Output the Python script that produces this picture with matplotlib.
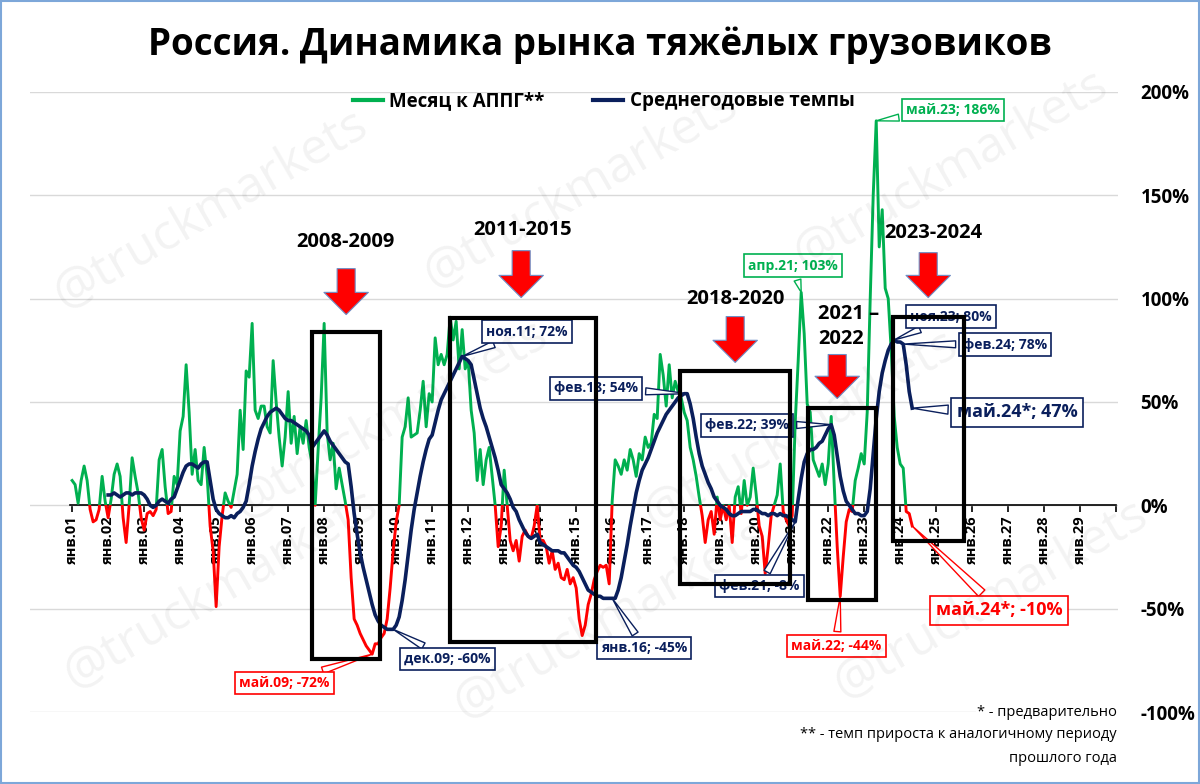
import matplotlib
matplotlib.use('Agg')
import matplotlib.pyplot as plt
import numpy as np
from matplotlib.lines import Line2D
from matplotlib.patches import Rectangle
from matplotlib.ticker import FuncFormatter

plt.rcParams['font.family'] = ['Open Sans', 'DejaVu Sans']

# monthly growth vs same month of previous year, %
yoy_2001 = [12, 10, 1, 12, 19, 12, -2, -8, -7, -2, 14, 2]
yoy_2002 = [-6, 3, 15, 20, 14, -6, -18, 0, 23, 14, 6, -6]
yoy_2003 = [-12, -4, -3, -5, -2, 22, 27, 9, -4, -3, 14, 10]
yoy_2004 = [36, 43, 68, 45, 15, 27, 12, 10, 28, 14, -10, -22]
yoy_2005 = [-49, -20, -5, 6, 2, -1, 7, 15, 46, 27, 65, 62]
yoy_2006 = [88, 46, 42, 48, 48, 38, 35, 70, 50, 33, 19, 33]
yoy_2007 = [55, 30, 43, 25, 38, 30, 41, 28, 20, 0, 27, 52]
yoy_2008 = [88, 35, 22, 30, 8, 18, 10, 2, -7, -35, -55, -58]
yoy_2009 = [-62, -65, -68, -70, -72, -67, -67, -64, -62, -55, -40, -22]
yoy_2010 = [-8, 0, 33, 38, 52, 33, 34, 35, 46, 60, 38, 54]
yoy_2011 = [50, 81, 68, 73, 68, 73, 91, 80, 89, 66, 85, 66]
yoy_2012 = [70, 46, 35, 12, 27, 10, 22, 28, 14, 0, -20, -10]
yoy_2013 = [17, 0, -17, -22, -17, -27, -15, -12, -15, -16, -10, 0]
yoy_2014 = [-17, -17, -20, -28, -22, -31, -28, -35, -36, -31, -38, -35]
yoy_2015 = [-40, -55, -63, -58, -48, -43, -36, -32, -29, -30, -29, -38]
yoy_2016 = [2, 22, 19, 15, 22, 17, 27, 22, 14, 25, 22, 33]
yoy_2017 = [28, 30, 44, 42, 73, 63, 48, 68, 52, 60, 55, 52]
yoy_2018 = [45, 41, 28, 22, 14, 4, -5, -18, -7, -3, -14, 4]
yoy_2019 = [-7, 0, -7, 0, -18, 4, 9, -4, 12, 0, 4, 18]
yoy_2020 = [5, -10, -15, -33, -20, -5, 0, 5, 20, -3, -7, -10]
yoy_2021 = [-5, 40, 70, 103, 83, 49, 45, 22, 18, 14, 20, 10]
yoy_2022 = [20, 43, 10, -20, -44, -25, -8, -2, -3, 12, 18, 25]
yoy_2023 = [20, 45, 100, 150, 186, 125, 143, 105, 100, 75, 43, 28]
yoy_2024 = [20, 18, -3, -4, -10]

# average annual rate (rolling), %, from Jan 2002
avg_2002 = [5, 5, 6, 5, 4, 5, 6, 6, 5, 6, 6, 6]
avg_2003 = [5, 3, 0, -1, 0, 2, 3, 2, 1, 3, 4, 8]
avg_2004 = [12, 16, 19, 20, 20, 19, 18, 20, 21, 21, 12, 3]
avg_2005 = [-2, -4, -5, -6, -6, -5, -6, -4, -3, -1, 2, 10]
avg_2006 = [19, 26, 32, 37, 40, 43, 45, 46, 47, 46, 44, 42]
avg_2007 = [41, 41, 40, 39, 38, 37, 36, 34, 28, 30, 32, 34]
avg_2008 = [36, 34, 31, 29, 27, 25, 23, 21, 20, 9, -4, -14]
avg_2009 = [-23, -30, -36, -42, -48, -53, -56, -58, -59, -60, -60, -60]
avg_2010 = [-58, -54, -46, -36, -24, -12, -2, 6, 14, 21, 27, 32]
avg_2011 = [34, 40, 46, 51, 54, 57, 60, 63, 66, 69, 72, 71]
avg_2012 = [70, 68, 61, 54, 47, 42, 38, 33, 28, 23, 17, 10]
avg_2013 = [8, 6, 3, -1, -3, -7, -10, -13, -15, -16, -15, -14]
avg_2014 = [-18, -19, -20, -21, -22, -22, -22, -23, -23, -25, -27, -29]
avg_2015 = [-30, -32, -35, -38, -41, -42, -43, -44, -44, -45, -45, -45]
avg_2016 = [-45, -45, -41, -35, -27, -19, -10, -2, 6, 12, 17, 20]
avg_2017 = [23, 27, 31, 35, 38, 41, 44, 46, 48, 50, 52, 53]
avg_2018 = [54, 54, 49, 42, 33, 25, 19, 15, 11, 8, 4, 2]
avg_2019 = [0, -1, -2, -4, -5, -5, -4, -3, -3, -3, -3, -2]
avg_2020 = [-2, -3, -4, -4, -5, -4, -4, -5, -4, -5, -5, -6]
avg_2021 = [-7, -8, 3, 13, 21, 25, 27, 27, 28, 30, 31, 34]
avg_2022 = [37, 39, 34, 24, 14, 7, 2, 0, -2, -4, -4, -5]
avg_2023 = [-5, -3, 8, 25, 42, 55, 64, 70, 75, 78, 80, 79]
avg_2024 = [79, 78, 68, 55, 47]

years = list(range(2001, 2031))
year_labels = ["янв.%02d" % (y % 100) for y in range(2001, 2030)] + [""]

# highlighted periods
periods = ["2008-2009", "2011-2015", "2018-2020", "2021 –\n2022", "2023-2024"]

GREEN = "#00b050"
RED = "#ff0000"
NAVY = "#0a1f5c"

yoy = np.array(yoy_2001 + yoy_2002 + yoy_2003 + yoy_2004 + yoy_2005 + yoy_2006 +
               yoy_2007 + yoy_2008 + yoy_2009 + yoy_2010 + yoy_2011 + yoy_2012 +
               yoy_2013 + yoy_2014 + yoy_2015 + yoy_2016 + yoy_2017 + yoy_2018 +
               yoy_2019 + yoy_2020 + yoy_2021 + yoy_2022 + yoy_2023 + yoy_2024,
               dtype=float)
x_yoy = 2001 + np.arange(len(yoy)) / 12.0
avg = np.array(avg_2002 + avg_2003 + avg_2004 + avg_2005 + avg_2006 + avg_2007 +
               avg_2008 + avg_2009 + avg_2010 + avg_2011 + avg_2012 + avg_2013 +
               avg_2014 + avg_2015 + avg_2016 + avg_2017 + avg_2018 + avg_2019 +
               avg_2020 + avg_2021 + avg_2022 + avg_2023 + avg_2024, dtype=float)
x_avg = 2002 + np.arange(len(avg)) / 12.0


def px(xp, yp):
    """Pixel position of the reference layout -> data coordinates."""
    return 2001 + (xp - 72) / 36.0, (505 - yp) / 2.07


def yoy_at(year, month):
    i = (year - 2001) * 12 + month - 1
    return x_yoy[i], yoy[i]


def avg_at(year, month):
    i = (year - 2002) * 12 + month - 1
    return x_avg[i], avg[i]


fig = plt.figure(figsize=(12, 7.84), dpi=100)
ax = fig.add_axes([0.025, 0.0918, 0.907, 0.791])
ax.set_xlim(1999.83, 2030.06)
ax.set_ylim(-100, 200)

# watermarks
for wx, wy in [(210, 210), (580, 190), (950, 170), (390, 420), (800, 430),
               (220, 590), (610, 620), (990, 600)]:
    fig.text(wx / 1200, 1 - wy / 784, "@truckmarkets", fontsize=36,
             color="#000000", alpha=0.05, rotation=30, ha="center",
             va="center", zorder=0)

# monthly line: green above zero, red below
up = ax.plot(x_yoy, yoy, color=GREEN, lw=2.1, zorder=3)[0]
dn = ax.plot(x_yoy, yoy, color=RED, lw=2.1, zorder=3)[0]
clip_up = Rectangle((1990, 0), 60, 400, transform=ax.transData)
clip_dn = Rectangle((1990, -400), 60, 400, transform=ax.transData)
up.set_clip_path(clip_up)
dn.set_clip_path(clip_dn)

ax.plot(x_avg, avg, color=NAVY, lw=2.6, zorder=4)

# axes
ax.set_yticks([-100, -50, 0, 50, 100, 150, 200])
ax.yaxis.set_major_formatter(FuncFormatter(lambda v, p: "%d%%" % v))
ax.yaxis.tick_right()
ax.yaxis.grid(True, color="#d9d9d9", lw=1)
ax.set_axisbelow(True)
ax.tick_params(axis="y", length=0, pad=16, labelsize=13.5)
for lab in ax.get_yticklabels():
    lab.set_fontweight("bold")

for side in ["top", "left", "right"]:
    ax.spines[side].set_visible(False)
ax.spines["bottom"].set_position(("data", 0))
ax.spines["bottom"].set_bounds(2000.95, 2030)
ax.spines["bottom"].set_linewidth(1.2)
ax.set_xticks(years)
ax.set_xticklabels(year_labels, rotation=90, fontsize=10.5, fontweight="bold")
ax.tick_params(axis="x", length=5, width=1.2, pad=2)

# legend
h1 = Line2D([], [], color=GREEN, lw=3)
h2 = Line2D([], [], color=NAVY, lw=3)
ax.legend([h1, h2], ["Месяц к АППГ**", "Среднегодовые темпы"], loc="center",
          bbox_to_anchor=(0.527, 0.985), ncol=2, frameon=False,
          prop={"weight": "bold", "size": 13.5}, handlelength=1.6,
          columnspacing=2.6, handletextpad=0.35)


# callouts
def callout(text, xy, pos, color, size=10):
    ax.annotate(text, xy=xy, xytext=px(*pos), ha="center", va="center",
                fontsize=size, fontweight="bold", color=color, zorder=6,
                bbox=dict(boxstyle="square,pad=0.3", fc="white", ec=color,
                          lw=1.2),
                arrowprops=dict(arrowstyle="wedge,tail_width=0.5", fc="white",
                                ec=color, lw=1, shrinkB=0))


callout("май.23; 186%", yoy_at(2023, 5), (953, 109), GREEN)
callout("апр.21; 103%", yoy_at(2021, 4), (793, 265), GREEN)
callout("май.09; -72%", yoy_at(2009, 5), (284, 683), RED)
callout("май.22; -44%", yoy_at(2022, 5), (836, 646), RED)
callout("май.24*; -10%", yoy_at(2024, 5), (999, 610), RED, size=13)
callout("ноя.11; 72%", avg_at(2011, 11), (527, 331), NAVY)
callout("фев.18; 54%", avg_at(2018, 2), (596, 388), NAVY)
callout("фев.22; 39%", avg_at(2022, 2), (747, 425), NAVY)
callout("ноя.23; 80%", avg_at(2023, 11), (951, 316), NAVY)
callout("фев.24; 78%", avg_at(2024, 2), (1005, 344), NAVY)
callout("май.24*; 47%", avg_at(2024, 5), (1017, 412), NAVY, size=13)
callout("дек.09; -60%", avg_at(2009, 12), (447, 659), NAVY)
callout("янв.16; -45%", avg_at(2016, 1), (644, 648), NAVY)
callout("фев.21; -8%", avg_at(2021, 2), (759, 586), NAVY)

# highlighted periods: frame, arrow, label
frames = [(312, 331, 380, 659), (450, 317, 596, 642), (680, 370, 790, 584),
          (808, 408, 876, 600), (893, 316, 964, 541)]
arrows = [(346, 268, 314), (521, 250, 297), (735, 316, 362), (837, 354, 398),
          (928, 252, 297)]
label_pos = [(345, 241), (522, 229), (735, 298), (818, 326), (933, 232)]

for (x0, y0, x1, y1), (ax_, ay0, ay1), name, lp in zip(frames, arrows, periods,
                                                       label_pos):
    a = px(x0, y1)
    b = px(x1, y0)
    ax.add_patch(Rectangle(a, b[0] - a[0], b[1] - a[1], fill=False,
                           ec="black", lw=3, zorder=7))
    ax.annotate("", xy=px(ax_, ay1), xytext=px(ax_, ay0), zorder=7,
                arrowprops=dict(arrowstyle="simple,head_width=3.2,"
                                "head_length=1.6,tail_width=1.3",
                                mutation_scale=10, fc=RED, ec="#6d8fc7",
                                lw=0.8, shrinkA=0, shrinkB=0))
    if "\n" in name:
        ax.text(*px(*lp), name, ha="left", va="center", fontsize=14.5,
                fontweight="bold", linespacing=1.3, zorder=7)
    else:
        ax.text(*px(*lp), name, ha="center", va="center", fontsize=14.5,
                fontweight="bold", zorder=7)

# title and notes
fig.text(0.5, 1 - 45 / 784, "Россия. Динамика рынка тяжёлых грузовиков",
         ha="center", va="center", fontsize=26.5, fontweight="bold")
fig.text(1117 / 1200, 1 - 712 / 784, "* - предварительно", ha="right",
         va="center", fontsize=10.5,
         bbox=dict(fc="white", ec="none", pad=1))
fig.text(1117 / 1200, 1 - 735 / 784, "** - темп прироста к аналогичному периоду",
         ha="right", va="center", fontsize=10.5)
fig.text(1117 / 1200, 1 - 758 / 784, "прошлого года", ha="right", va="center",
         fontsize=10.5)

fig.patches.append(Rectangle((0.001, 0.001), 0.998, 0.998, fill=False,
                             ec="#7da7d9", lw=1.5, transform=fig.transFigure))

fig.savefig("out.png", dpi=100)
